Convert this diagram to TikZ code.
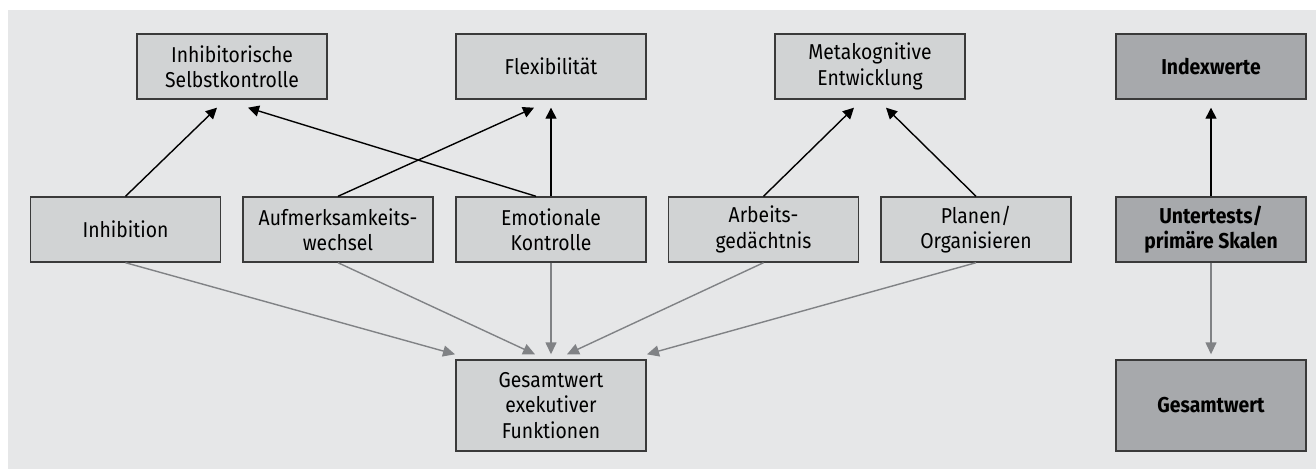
\documentclass[tikz,border=0pt]{standalone}
\usepackage{fontspec}
\setmainfont[FakeStretch=0.9]{Fira Sans}
\usetikzlibrary{arrows.meta,calc}
\definecolor{bgc}{HTML}{E6E7E8}
\definecolor{boxl}{HTML}{D1D3D4}
\definecolor{boxd}{HTML}{A7A9AC}
\definecolor{bord}{HTML}{3A3A3A}
\definecolor{garr}{HTML}{808285}
\begin{document}
\begin{tikzpicture}[x=1pt,y=-1pt,
  box/.style={draw=bord,line width=1.4pt,fill=boxl,minimum width=190pt,minimum height=65pt,
    inner sep=0pt,align=center,font=\fontsize{21.5}{25.5}\selectfont},
  dbox/.style={box,fill=boxd,font=\fontsize{21.5}{25.5}\selectfont\bfseries},
  tall/.style={minimum height=91pt},
  barr/.style={draw=black,line width=1.4pt,-{Triangle[length=11pt,width=11pt]}},
  garrow/.style={draw=garr,line width=1.4pt,-{Triangle[length=12pt,width=11pt]}}
]
\useasboundingbox (0,0) rectangle (1316,469);
\fill[white] (0,0) rectangle (1316,469);
\fill[bgc] (8,10) rectangle (1316,469);

% top row
\node[box] (isk) at (232,66.5) {Inhibitorische\\Selbstkontrolle};
\node[box] (flex) at (551,66.5) {Flexibilität};
\node[box] (meta) at (870,66.5) {Metakognitive\\Entwicklung};
\node[dbox] (idx) at (1211,66.5) {Indexwerte};
% middle row
\node[box] (inh) at (125.5,229.5) {Inhibition};
\node[box] (auf) at (338,229.5) {Aufmerksamkeits-\\wechsel};
\node[box] (emo) at (551,229.5) {Emotionale\\Kontrolle};
\node[box] (arb) at (763.5,229.5) {Arbeits-\\gedächtnis};
\node[box] (pla) at (976,229.5) {Planen/\\Organisieren};
\node[dbox] (unt) at (1211,229.5) {Untertests/\\primäre Skalen};
% bottom row
\node[box,tall] (ges) at (551,405.5) {Gesamtwert\\exekutiver\\Funktionen};
\node[dbox,tall] (ges2) at (1211,405.5) {Gesamtwert};

% black arrows
\draw[barr] (inh.north) -- ($(isk.south)+(-15,8)$);
\draw[barr] ($(emo.north)+(-15,0)$) -- ($(isk.south)+(16,8)$);
\draw[barr] (auf.north) -- ($(flex.south)+(-17,8)$);
\draw[barr] (emo.north) -- ($(flex.south)+(0,8)$);
\draw[barr] (arb.north) -- ($(meta.south)+(-16,8)$);
\draw[barr] (pla.north) -- ($(meta.south)+(16,8)$);
\draw[barr] (unt.north) -- ($(idx.south)+(0,8)$);

% gray arrows
\draw[garrow] (inh.south) -- ($(ges.north)+(-96,-5)$);
\draw[garrow] (auf.south) -- ($(ges.north)+(-16,-5)$);
\draw[garrow] (emo.south) -- ($(ges.north)+(0,-5)$);
\draw[garrow] (arb.south) -- ($(ges.north)+(16,-5)$);
\draw[garrow] (pla.south) -- ($(ges.north)+(96,-5)$);
\draw[garrow] (unt.south) -- ($(ges2.north)+(0,-5)$);
\end{tikzpicture}
\end{document}
